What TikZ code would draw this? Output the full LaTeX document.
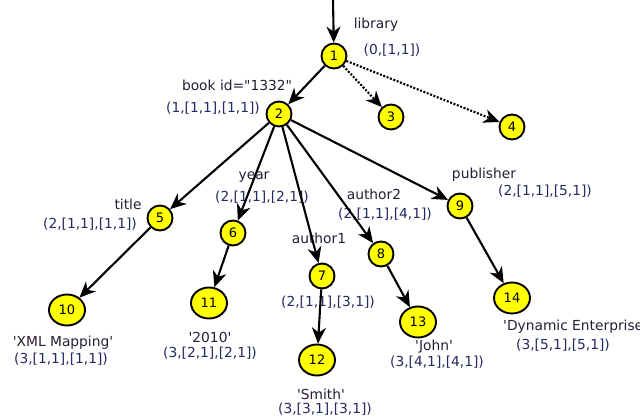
\documentclass[tikz,border=0pt]{standalone}
\usepackage{fontspec}
\setmainfont{DejaVu Sans}
\usetikzlibrary{arrows.meta,shapes.geometric}
\definecolor{nodeyellow}{RGB}{255,255,0}
\definecolor{tupleblue}{RGB}{38,42,98}
\definecolor{tagdark}{RGB}{40,28,55}
\newcommand{\sq}{\textquotesingle}
\newcommand{\dq}{\textquotedbl}
\begin{document}
\begin{tikzpicture}[x=1pt,y=-1pt,
  inner/.style={circle,draw=black,fill=nodeyellow,line width=1.9pt,minimum size=25pt,inner sep=0pt,
    font=\fontsize{13}{13}\selectfont},
  leaf/.style={ellipse,draw=black,fill=nodeyellow,line width=1.9pt,minimum width=36pt,minimum height=31pt,inner sep=0pt,
    font=\fontsize{13}{13}\selectfont},
  tag/.style={text=tagdark,inner sep=0pt,font=\fontsize{13.8}{15}\selectfont},
  tuple/.style={text=tupleblue,inner sep=0pt,font=\fontsize{13.8}{15}\selectfont},
  edge/.style={line width=2.1pt,-{Stealth[length=16pt,width=14pt,inset=5pt]}},
  dotedge/.style={edge,dash pattern=on 2pt off 1.6pt}]
\useasboundingbox (0,0) rectangle (640,420);

% tree nodes
\node[inner] (n1) at (334,56) {1};
\node[inner] (n2) at (279,114) {2};
\node[inner] (n3) at (391,117) {3};
\node[inner] (n4) at (512,127) {4};
\node[inner] (n5) at (160,218) {5};
\node[inner] (n6) at (233,233) {6};
\node[inner] (n7) at (322,276) {7};
\node[inner] (n8) at (381,254) {8};
\node[inner] (n9) at (460,206) {9};
\node[leaf] (n10) at (67,310) {10};
\node[leaf] (n11) at (209,303) {11};
\node[leaf] (n12) at (317,360) {12};
\node[leaf] (n13) at (418,322) {13};
\node[leaf] (n14) at (512,298) {14};

% element names
\node[tag] (t1) at (376,25) {library};
\node[tag] (t2) at (237,85) {book id=\dq1332\dq};
\node[tag] (t5) at (128,204) {title};
\node[tag] (t6) at (254,177) {year};
\node[tag] (t7) at (319,238) {author1};
\node[tag] (t8) at (374,194) {author2};
\node[tag] (t9) at (484,175) {publisher};
\node[tag] (t10) at (63,343) {\sq XML Mapping\sq};
\node[tag] (t11) at (210,337) {\sq2010\sq};
\node[tag] (t12) at (321,394) {\sq Smith\sq};
\node[tag] (t13) at (434,347) {\sq John\sq};
\node[tag,anchor=west] (t14) at (503,327) {\sq Dynamic Enterprise\sq};

% position tuples
\node[tuple] (p1) at (392,50) {(0,[1,1])};
\node[tuple] (p2) at (213,108) {(1,[1,1],[1,1])};
\node[tuple] (p5) at (90,224) {(2,[1,1],[1,1])};
\node[tuple] (p6) at (262,197) {(2,[1,1],[2,1])};
\node[tuple] (p7) at (328,302) {(2,[1,1],[3,1])};
\node[tuple] (p8) at (385,214) {(2,[1,1],[4,1])};
\node[tuple] (p9) at (545,191) {(2,[1,1],[5,1])};
\node[tuple] (p10) at (61,359) {(3,[1,1],[1,1])};
\node[tuple] (p11) at (210,353) {(3,[2,1],[2,1])};
\node[tuple] (p12) at (325,409) {(3,[3,1],[3,1])};
\node[tuple] (p13) at (437,362) {(3,[4,1],[4,1])};
\node[tuple] (p14) at (563,345) {(3,[5,1],[5,1])};

% connectors
\coordinate (entry) at (333,0);
\draw[edge] (entry) -- (n1);
\draw[edge] (n1) -- (n2);
\draw[dotedge] (n1) -- (n3);
\draw[dotedge] (n1) -- (n4);
\foreach \c in {n5,n6,n7,n8,n9} \draw[edge] (n2) -- (\c);
\draw[edge] (n5) -- (n10);
\draw[edge] (n6) -- (n11);
\draw[edge] (n7) -- (n12);
\draw[edge] (n8) -- (n13);
\draw[edge] (n9) -- (n14);
\end{tikzpicture}
\end{document}
